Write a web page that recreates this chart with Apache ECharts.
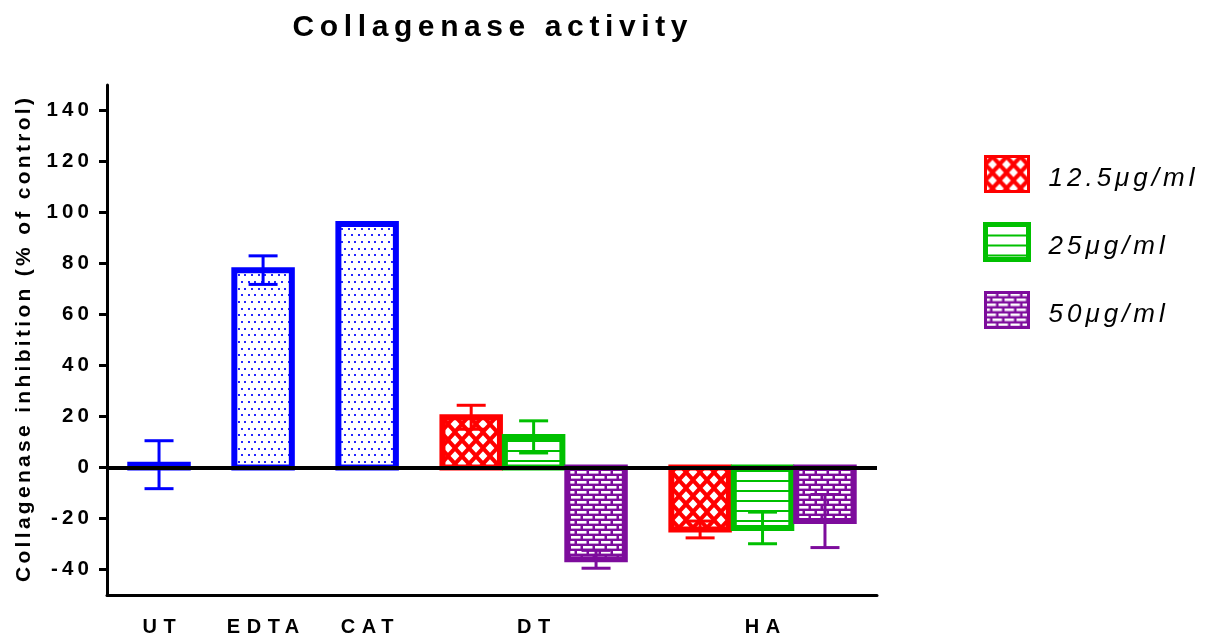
<!DOCTYPE html>
<html><head><meta charset="utf-8">
<script src="https://cdn.jsdelivr.net/npm/echarts@6/dist/echarts.min.js"></script>
<style>html,body{margin:0;padding:0;background:#fff}#chart{width:1208px;height:638px}</style>
</head><body><div id="chart"></div>
<script>
// ---------------- data ----------------
const controlLabels = ['UT', 'EDTA', 'CAT'];
const controlMean = [1.1, 77.4, 95.5];
const controlErr = [9.4, 5.6, 0];
const treatedLabels = ['DT', 'HA'];
const concentrations = ['12.5μg/ml', '25μg/ml', '50μg/ml'];
const mean12_5 = [19.7, -24.3];
const err12_5 = [4.7, 3.3];
const mean25 = [12.0, -23.7];
const err25 = [6.3, 6.2];
const mean50 = [-36.0, -21.0];
const err50 = [3.5, 10.4];
const yTicks = [-40, -20, 0, 20, 40, 60, 80, 100, 120, 140];
const titleText = 'Collagenase activity';
const yName = 'Collagenase inhibition (% of control)';

// ---------------- letter spacing for canvas text ----------------
const SPACING = {'30': 5.6, '26': 4, '21': 3.3, '20': 6.5, '20.5': 4.2};
(function () {
  const proto = CanvasRenderingContext2D.prototype;
  const orig = proto.fillText;
  proto.fillText = function (text, x, y, maxW) {
    const m = /(\d+(?:\.\d+)?)px/.exec(this.font);
    const sp = m ? (SPACING[String(parseFloat(m[1]))] || 0) : 0;
    if (sp && ('letterSpacing' in this)) {
      const prev = this.letterSpacing;
      this.letterSpacing = sp + 'px';
      let dx = 0;
      if (this.textAlign === 'center') dx = sp / 2;
      else if (this.textAlign === 'right' || this.textAlign === 'end') dx = sp;
      if (maxW === undefined) orig.call(this, text, x + dx, y);
      else orig.call(this, text, x + dx, y, maxW);
      this.letterSpacing = prev;
      return;
    }
    if (maxW === undefined) return orig.call(this, text, x, y);
    return orig.call(this, text, x, y, maxW);
  };
})();

// ---------------- patterns ----------------
function makeCanvas(w, h, draw) {
  const c = document.createElement('canvas');
  c.width = w; c.height = h;
  draw(c.getContext('2d'), w, h);
  return c;
}
const dotPattern = makeCanvas(20, 40, (ctx) => {
  ctx.fillStyle = '#fff'; ctx.fillRect(0, 0, 20, 40);
  ctx.fillStyle = 'rgba(0,0,255,0.85)';
  for (let r = 0; r < 6; r++) {
    const y = Math.round(r * 20 / 3) + 1;
    const off = (r % 2) * 10 / 3;
    for (let k = 0; k < 3; k++) {
      const x = Math.round(off + k * 20 / 3) + 1;
      ctx.fillRect(x, y, 2, 2);
    }
  }
});
const crossPattern = makeCanvas(14, 16, (ctx) => {
  ctx.fillStyle = '#ff0000'; ctx.fillRect(0, 0, 14, 16);
  ctx.fillStyle = '#fff';
  const dx = 4.4, dy = 4.7;
  const pts = [[0, 0], [14, 0], [0, 16], [14, 16], [7, 8]];
  pts.forEach(([cx, cy]) => {
    ctx.beginPath();
    ctx.moveTo(cx, cy - dy); ctx.lineTo(cx + dx, cy); ctx.lineTo(cx, cy + dy); ctx.lineTo(cx - dx, cy);
    ctx.closePath(); ctx.fill();
  });
});
const linePattern = makeCanvas(10, 10, (ctx) => {
  ctx.fillStyle = '#fff'; ctx.fillRect(0, 0, 10, 10);
  ctx.fillStyle = '#00c000'; ctx.fillRect(0, 0, 10, 2);
});
const brickPattern = makeCanvas(12, 10, (ctx) => {
  ctx.fillStyle = '#7d0c9c'; ctx.fillRect(0, 0, 12, 10);
  ctx.fillStyle = '#fff';
  ctx.fillRect(1, 1, 9.5, 2.6);
  ctx.fillRect(-5, 6, 9.5, 2.6);
  ctx.fillRect(7, 6, 9.5, 2.6);
});
const pat = (c) => ({image: c, repeat: 'repeat'});

const controlColor = '#0000ff';
const concColors = ['#ff0000', '#00c000', '#7d0c9c'];
const concPatterns = [crossPattern, linePattern, brickPattern];

// ---------------- slot layout (category axis) ----------------
const GROUP_STEP = 5, BAR_STEP = 3, START = 2;
let cursor = START;
const controlSlots = [];
const treatedSlots = [[], [], []];
const labelSlot = {};
controlLabels.forEach((g) => { controlSlots.push(cursor); labelSlot[cursor] = g; cursor += GROUP_STEP; });
treatedLabels.forEach((g) => {
  concentrations.forEach((c, ci) => treatedSlots[ci].push(cursor + ci * BAR_STEP));
  labelSlot[cursor + BAR_STEP] = g;
  cursor += 2 * BAR_STEP + GROUP_STEP;
});
const nSlots = cursor - GROUP_STEP + BAR_STEP;
const slotNames = Array.from({length: nSlots}, (_, i) => 's' + i);

const concMeans = [mean12_5, mean25, mean50];
const concErrs = [err12_5, err25, err50];

const BAR_W = 57.5, BORDER = 6, CAP_HALF = 14.5, ERR_W = 3;

function makeRender(fillPattern, color) {
  return function (params, api) {
    const x = api.value(0), m = api.value(1), e = api.value(2);
    const p0 = api.coord([x, 0]);
    const p1 = api.coord([x, m]);
    const cx = p0[0];
    const children = [{
      type: 'rect',
      shape: {x: cx - BAR_W / 2, y: Math.min(p0[1], p1[1]), width: BAR_W, height: Math.abs(p1[1] - p0[1])},
      style: {fill: pat(fillPattern), stroke: color, lineWidth: BORDER}
    }];
    if (e) {
      const top = api.coord([x, m + e]);
      const bot = api.coord([x, m - e]);
      const st = {stroke: color, lineWidth: ERR_W};
      children.push(
        {type: 'line', shape: {x1: cx, y1: top[1], x2: cx, y2: bot[1]}, style: st},
        {type: 'line', shape: {x1: cx - CAP_HALF, y1: top[1], x2: cx + CAP_HALF, y2: top[1]}, style: st},
        {type: 'line', shape: {x1: cx - CAP_HALF, y1: bot[1], x2: cx + CAP_HALF, y2: bot[1]}, style: st}
      );
    }
    return {type: 'group', children: children};
  };
}

const series = [{
  type: 'custom', name: 'control', z: 2, silent: true,
  data: controlSlots.map((s, i) => [s, controlMean[i], controlErr[i]]),
  encode: {x: 0, y: 1},
  itemStyle: {color: pat(dotPattern), borderColor: controlColor, borderWidth: BORDER},
  renderItem: makeRender(dotPattern, controlColor)
}];
concentrations.forEach((c, ci) => {
  series.push({
    type: 'custom', name: c, z: 2, silent: true,
    data: treatedSlots[ci].map((s, gi) => [s, concMeans[ci][gi], concErrs[ci][gi]]),
    encode: {x: 0, y: 1},
    itemStyle: {color: pat(concPatterns[ci]), borderColor: concColors[ci], borderWidth: BORDER},
    renderItem: makeRender(concPatterns[ci], concColors[ci])
  });
});
series.push({
  type: 'line', name: 'zero', data: [], z: 5, silent: true,
  markLine: {silent: true, symbol: 'none', animation: false, label: {show: false},
    lineStyle: {color: '#000', width: 4, type: 'solid'}, data: [{yAxis: 0}]}
});

const FONT = '"Liberation Sans", Arial, sans-serif';
const chart = echarts.init(document.getElementById('chart'), null, {renderer: 'canvas'});
chart.setOption({
  animation: false,
  backgroundColor: '#fff',
  title: {
    text: titleText, left: 490, top: 13, textAlign: 'center', padding: 0,
    textStyle: {fontFamily: FONT, fontWeight: 'bold', fontSize: 30, color: '#000'}
  },
  legend: {
    orient: 'vertical', left: 983, top: 155, padding: 0,
    itemWidth: 43, itemHeight: 35, itemGap: 29,
    data: concentrations.map((c, ci) => ({
      name: c, icon: 'rect',
      itemStyle: {color: pat(concPatterns[ci]), borderColor: concColors[ci], borderWidth: ci === 1 ? 5 : 3}
    })),
    formatter: (name) => '{t|' + name + '}',
    textStyle: {
      fontFamily: FONT, fontStyle: 'italic', fontSize: 26, color: '#000',
      rich: {t: {fontFamily: FONT, fontStyle: 'italic', fontSize: 26, color: '#000', padding: [9, 0, 0, 15]}}
    },
    selectedMode: false
  },
  grid: {left: 107, right: 331, top: 85, bottom: 43, containLabel: false},
  xAxis: {
    type: 'category', data: slotNames,
    axisLine: {onZero: false, lineStyle: {color: '#000', width: 3}},
    axisTick: {alignWithLabel: true, length: 8, lineStyle: {color: '#000', width: 3},
      interval: (i) => labelSlot[i] !== undefined},
    axisLabel: {interval: (i) => labelSlot[i] !== undefined, margin: 22,
      formatter: (v, i) => labelSlot[i] || '',
      fontFamily: FONT, fontWeight: 'bold', fontSize: 20, color: '#000'},
    splitLine: {show: false}
  },
  yAxis: {
    type: 'value', min: -50, max: 150, interval: 10,
    name: yName, nameLocation: 'middle', nameGap: 72, nameRotate: 90,
    nameTextStyle: {fontFamily: FONT, fontWeight: 'bold', fontSize: 21, color: '#000'},
    axisLine: {show: true, lineStyle: {color: '#000', width: 3}},
    axisTick: {show: true, length: 8, lineStyle: {color: '#000', width: 3}, customValues: yTicks},
    axisLabel: {margin: 18, customValues: yTicks, fontFamily: FONT, fontWeight: 'bold', fontSize: 20.5, color: '#000'},
    splitLine: {show: false}
  },
  series: series
});
</script>
</body></html>
